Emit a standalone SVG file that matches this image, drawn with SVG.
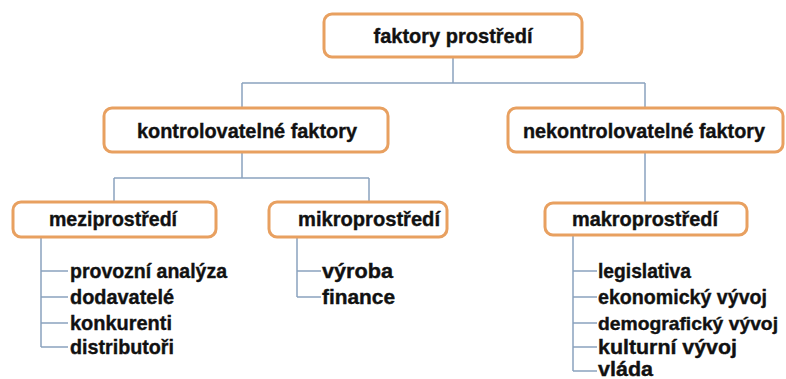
<svg xmlns="http://www.w3.org/2000/svg" width="786" height="379" viewBox="0 0 786 379">
<defs>
<style>
.box{fill:#ffffff;stroke:#e8a060;stroke-width:3}
.t{font-family:"Liberation Sans",Arial,sans-serif;font-weight:bold;font-size:21px;fill:#111;stroke:#111;stroke-width:0.4}
.c{text-anchor:middle}
.ln{stroke:#8aa2bf;stroke-width:1.5;fill:none}
</style>
</defs>
<rect width="786" height="379" fill="#ffffff"/>
<g id="connectors">
<path class="ln" d="M453 57V83M242 83H645M242 83V108M645 83V108"/>
<path class="ln" d="M242 152V178M114 178H369M114 178V202M369 178V202"/>
<path class="ln" d="M645 152V203"/>
<path class="ln" d="M41 237V347M41 271H68M41 297H68M41 323H68M41 347H68"/>
<path class="ln" d="M297 237V297M297 271H321M297 297H321"/>
<path class="ln" d="M573 235V371M573 271H597M573 297H597M573 323H597M573 347H597M573 371H597"/>
</g>
<g id="n-faktory">
<rect class="box" x="324" y="14" width="258" height="43" rx="8"/>
<text class="t c" x="453" y="43" textLength="159" lengthAdjust="spacingAndGlyphs">faktory prostředí</text>
</g>
<g id="n-kontrol">
<rect class="box" x="104" y="108" width="284" height="44" rx="8"/>
<text class="t c" x="247" y="138" textLength="220" lengthAdjust="spacingAndGlyphs">kontrolovatelné faktory</text>
</g>
<g id="n-nekontrol">
<rect class="box" x="508" y="108" width="275" height="44" rx="8"/>
<text class="t c" x="644" y="138" textLength="242" lengthAdjust="spacingAndGlyphs">nekontrolovatelné faktory</text>
</g>
<g id="n-mezi">
<rect class="box" x="13" y="202" width="203" height="35" rx="8"/>
<text class="t c" x="113" y="226" textLength="128" lengthAdjust="spacingAndGlyphs">meziprostředí</text>
</g>
<g id="n-mikro">
<rect class="box" x="269" y="202" width="178" height="35" rx="8"/>
<text class="t c" x="369" y="226" textLength="142" lengthAdjust="spacingAndGlyphs">mikroprostředí</text>
</g>
<g id="n-makro">
<rect class="box" x="545" y="203" width="202" height="32" rx="8"/>
<text class="t c" x="645" y="226" textLength="146" lengthAdjust="spacingAndGlyphs">makroprostředí</text>
</g>
<g id="l-mezi">
<text class="t" x="70" y="278" textLength="157" lengthAdjust="spacingAndGlyphs">provozní analýza</text>
<text class="t" x="70" y="304" textLength="104" lengthAdjust="spacingAndGlyphs">dodavatelé</text>
<text class="t" x="70" y="330" textLength="102" lengthAdjust="spacingAndGlyphs">konkurenti</text>
<text class="t" x="70" y="354" textLength="104" lengthAdjust="spacingAndGlyphs">distributoři</text>
</g>
<g id="l-mikro">
<text class="t" x="322" y="278" textLength="71" lengthAdjust="spacingAndGlyphs">výroba</text>
<text class="t" x="322" y="304" textLength="73" lengthAdjust="spacingAndGlyphs">finance</text>
</g>
<g id="l-makro">
<text class="t" x="598" y="278" textLength="93" lengthAdjust="spacingAndGlyphs">legislativa</text>
<text class="t" x="598" y="304" textLength="169" lengthAdjust="spacingAndGlyphs">ekonomický vývoj</text>
<text class="t" x="598" y="330" font-size="19" textLength="180" lengthAdjust="spacingAndGlyphs" style="font-size:19px">demografický vývoj</text>
<text class="t" x="598" y="354" textLength="139" lengthAdjust="spacingAndGlyphs">kulturní vývoj</text>
<text class="t" x="598" y="376" textLength="55" lengthAdjust="spacingAndGlyphs">vláda</text>
</g>
</svg>
